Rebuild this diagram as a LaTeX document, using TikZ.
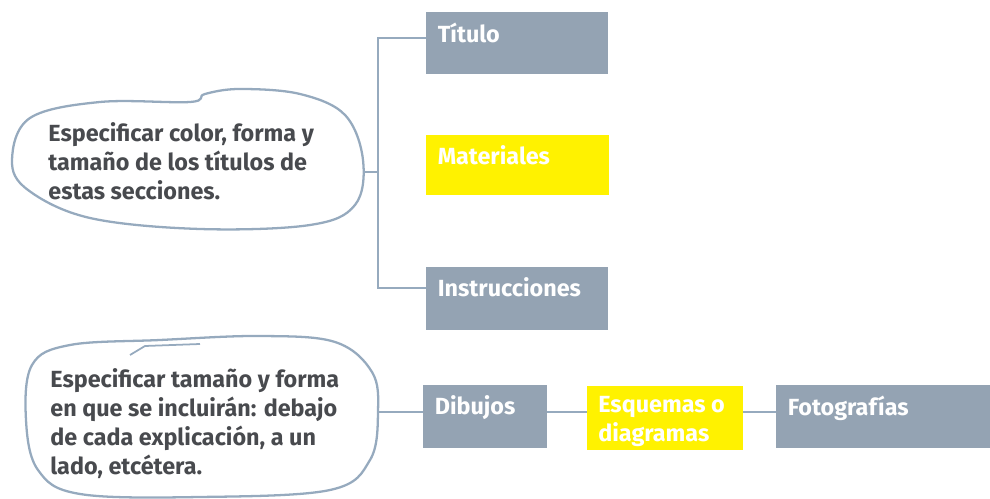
\documentclass[tikz,border=0pt]{standalone}
\usepackage{fontspec}
\setmainfont{Fira Sans}
\definecolor{boxgrey}{RGB}{148,163,179}
\definecolor{linegrey}{RGB}{150,170,190}
\definecolor{bubbletext}{RGB}{72,74,78}
\begin{document}
\begin{tikzpicture}[
  x = 0.02cm, y = -0.02cm,
  greybox/.style = {
    shape = rectangle,
    fill = boxgrey,
    inner sep = 0pt,
    outer sep = 0pt,
  },
  yellowbox/.style = {
    greybox,
    fill = yellow,
  },
  boxtext/.style = {
    anchor = north west,
    text = white,
    font = \fontsize{13.3}{16.5}\selectfont\bfseries,
    align = left,
    inner xsep = 6.5pt,
    inner ysep = 6pt,
  },
  bubble/.style = {
    draw = linegrey,
    line width = 1.3pt,
  },
  note/.style = {
    anchor = north west,
    text = bubbletext,
    font = \fontsize{13.3}{16.5}\selectfont\bfseries,
    align = left,
    inner sep = 0pt,
  },
  link/.style = {
    draw = linegrey,
    line width = 1.5pt,
  }
]
  \useasboundingbox (0, 0) rectangle (990, 499);

  \node[greybox, minimum width = 3.64cm, minimum height = 1.24cm,
    label = {[boxtext]north west:Título}] (titulo) at (517, 43) {};
  \node[yellowbox, minimum width = 3.66cm, minimum height = 1.2cm,
    label = {[boxtext]north west:Materiales}] (materiales) at (517.5, 165) {};
  \node[greybox, minimum width = 3.64cm, minimum height = 1.26cm,
    label = {[boxtext]north west:Instrucciones}] (instrucciones) at (517, 298.5) {};

  \node[greybox, minimum width = 2.48cm, minimum height = 1.26cm,
    label = {[boxtext]north west:Dibujos}] (dibujos) at (485, 416.5) {};
  \node[yellowbox, minimum width = 3.14cm, minimum height = 1.3cm,
    label = {[boxtext]north west:Esquemas o\\diagramas}] (esquemas) at (665, 418) {};
  \node[greybox, minimum width = 4.28cm, minimum height = 1.26cm,
    label = {[boxtext]north west:Fotografías}] (fotografias) at (883, 416.5) {};

  % speech bubbles
  \draw[bubble] plot[smooth cycle, tension = 0.6] coordinates {
    (12, 160) (30, 118) (100, 102) (190, 102) (205, 94) (240, 89)
    (300, 94) (345, 115) (363, 160) (355, 205) (310, 225) (200, 229)
    (90, 218) (28, 190)};
  \node[note] (nota1) at (48, 122)
    {Especificar color, forma y\\tamaño de los títulos de\\estas secciones.};
  \coordinate (b1e) at (363, 172);

  \draw[bubble] plot[smooth cycle, tension = 0.6] coordinates {
    (26, 420) (32, 365) (70, 345) (160, 340) (260, 336) (335, 342)
    (372, 372) (378, 412) (370, 460) (330, 490) (200, 497) (80, 494)
    (38, 470)};
  \draw[bubble, line width = 1pt] (130, 355) -- (145, 346) -- (200, 344);
  \node[note] (nota2) at (50, 368)
    {Especificar tamaño y forma\\en que se incluirán: debajo\\de cada explicación, a un\\lado, etcétera.};
  \coordinate (b2e) at (379, 412);

  \coordinate (top) at (378, 38);
  \coordinate (bot) at (378, 288);

  \draw[link] (titulo.west |- top) -- (top) -- (bot) -- (instrucciones.west |- bot);
  \draw[link] (b1e) -- (b1e -| top);

  \draw[link] (b2e) -- (dibujos.west |- b2e);
  \draw[link] (dibujos.east |- b2e) -- (esquemas.west |- b2e);
  \draw[link] (esquemas.east |- b2e) -- (fotografias.west |- b2e);
\end{tikzpicture}
\end{document}
